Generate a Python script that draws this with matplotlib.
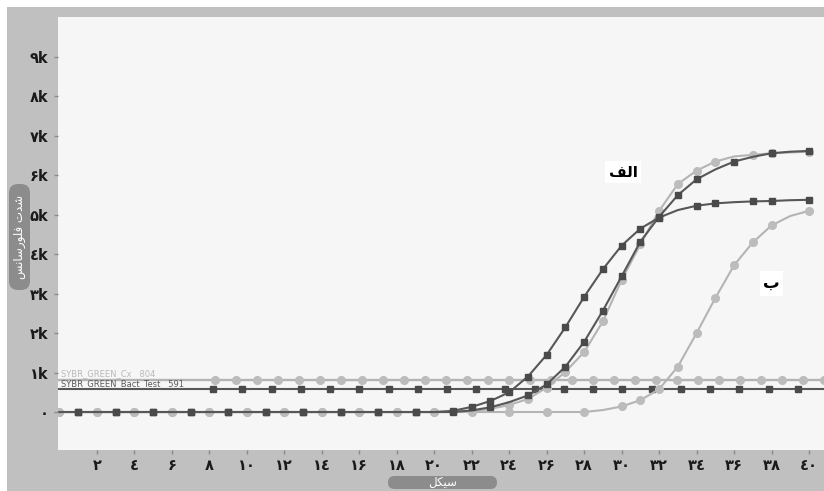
import numpy as np
import matplotlib
matplotlib.use("Agg")
import matplotlib.pyplot as plt
from matplotlib.patches import Rectangle, FancyBboxPatch
from matplotlib.transforms import IdentityTransform

plt.rcParams['font.family'] = ['DejaVu Sans']

# ---------------------------------------------------------------- data
CYCLES = list(range(0, 41))
# dark squares, early sample (plateau ~5.4k)
CURVE_A = [0, 0, 0, 0, 0, 0, 0, 0, 0, 0,
           0, 0, 0, 0, 0, 0, 0, 0, 0, 0,
           0, 30, 130, 280, 500, 900, 1450, 2150, 2920, 3620,
           4220, 4650, 4930, 5120, 5230, 5290, 5320, 5340, 5350, 5370, 5380]
# dark squares, second sample (plateau ~6.6k)
CURVE_B = [0, 0, 0, 0, 0, 0, 0, 0, 0, 0,
           0, 0, 0, 0, 0, 0, 0, 0, 0, 0,
           0, 0, 40, 120, 250, 420, 700, 1150, 1780, 2570,
           3440, 4320, 4950, 5500, 5900, 6150, 6350, 6470, 6560, 6600, 6620]
# light circles, close to B (plateau ~6.6k)
CURVE_C = [0, 0, 0, 0, 0, 0, 0, 0, 0, 0,
           0, 0, 0, 0, 0, 0, 0, 0, 0, 0,
           0, 0, 20, 80, 180, 330, 620, 1020, 1520, 2300,
           3350, 4250, 5100, 5780, 6120, 6350, 6480, 6520, 6560, 6580, 6600]
# light circles, late sample "ب" (plateau ~5.1k)
CURVE_D = [0, 0, 0, 0, 0, 0, 0, 0, 0, 0,
           0, 0, 0, 0, 0, 0, 0, 0, 0, 0,
           0, 0, 0, 0, 0, 0, 0, 0, 0, 50,
           140, 300, 580, 1150, 2000, 2890, 3720, 4300, 4730, 4970, 5100]

THRESH_CX = 804
THRESH_BACT = 591
THRESH_CX_LABEL = "SYBR_GREEN_Cx   804"
THRESH_BACT_LABEL = "SYBR_GREEN_Bact_Test   591"

YTICKS = [0, 1000, 2000, 3000, 4000, 5000, 6000, 7000, 8000, 9000]
YTICK_LABELS = ["۰", "۱k", "۲k", "۳k", "٤k", "۵k", "۶k", "۷k", "۸k", "۹k"]
XTICKS = [2, 4, 6, 8, 10, 12, 14, 16, 18, 20, 22, 24, 26, 28, 30, 32, 34, 36, 38, 40]
XTICK_LABELS = ["۲", "٤", "۶", "۸", "۱۰", "۱۲", "۱٤", "۱۶", "۱۸", "۲۰",
                "۲۲", "۲٤", "۲۶", "۲۸", "۳۰", "۳۲", "۳٤", "۳۶", "۳۸", "٤۰"]

# Persian labels, pre-shaped (presentation forms, visual order) since mpl does no shaping
LBL_ALEF = "\uFED2\uFEDF\uFE8D"                       # الف
LBL_BE = "\uFE8F"                                      # ب
XLABEL = "\uFEDE\uFB91\uFBFF\uFEB3"                    # سیکل
YLABEL = "\uFEB2\uFEE7\uFE8E\uFEB3\uFEAD\uFEEE\uFEE0\uFED3 \uFE95\uFEAA\uFEB7"  # شدت فلورسانس

# marker indices (style only)
MK_A = list(range(1, 21, 2)) + list(range(21, 33)) + [34, 35, 37, 38, 40]
MK_B = list(range(1, 24, 2)) + list(range(25, 35)) + [36, 38, 40]
MK_C = list(range(0, 25, 2)) + list(range(25, 36)) + [37, 38, 40]
MK_D = list(range(0, 29, 2)) + list(range(30, 39)) + [40]

DARK, DARK_M, LIGHT, LIGHT_M = "#575757", "#4a4a4a", "#b4b4b4", "#bcbcbc"

W, H = 824, 491
fig = plt.figure(figsize=(W / 100, H / 100), dpi=100, facecolor="white")
fig.add_artist(Rectangle((7 / W, 0), 1, 1 - 7 / H, transform=fig.transFigure,
                         facecolor="#c0c0c0", edgecolor="none", zorder=-5))
ax = fig.add_axes([58 / W, 41 / H, 766 / W, 433 / H])
ax.set_facecolor("#f6f6f6")

# threshold lines with their labels
ax.axhline(THRESH_CX, color=LIGHT, lw=1.7, zorder=2)
ax.axhline(THRESH_BACT, color=DARK, lw=1.5, zorder=2)
cx_x = np.arange(8.3, 40.9, 1.12)
ax.plot(cx_x, [THRESH_CX] * len(cx_x), "o", ms=5.5, color=LIGHT_M, zorder=3)
bt_x = np.arange(8.2, 40.9, 1.56)
ax.plot(bt_x, [THRESH_BACT] * len(bt_x), "s", ms=5, color=DARK_M, zorder=3)
ax.text(0.1, THRESH_CX + 50, THRESH_CX_LABEL, fontsize=6, color="#bababa", va="bottom", ha="left",
        fontstretch="expanded")
ax.text(0.1, THRESH_BACT + 20, THRESH_BACT_LABEL, fontsize=6, color="#5a5a5a", va="bottom", ha="left",
        fontstretch="expanded")

# amplification curves
for vals, mk in [(CURVE_D, MK_D), (CURVE_C, MK_C)]:
    ax.plot(CYCLES, vals, color=LIGHT, lw=1.5, marker="o", ms=5.5, mfc=LIGHT_M, mec=LIGHT_M,
            markevery=mk, zorder=4)
for vals, mk in [(CURVE_B, MK_B), (CURVE_A, MK_A)]:
    ax.plot(CYCLES, vals, color=DARK, lw=1.5, marker="s", ms=5, mfc=DARK_M, mec=DARK_M,
            markevery=mk, zorder=5)

ax.text(30.07, 6085, LBL_ALEF, ha="center", va="center", fontsize=11, fontweight="bold",
        bbox=dict(facecolor="white", edgecolor="none", pad=2.5), zorder=6)
ax.text(38.0, 3270, LBL_BE, ha="center", va="center", fontsize=12, fontweight="bold",
        bbox=dict(facecolor="white", edgecolor="none", pad=2.5), zorder=6)

ax.set_xlim(-0.08, 40.8)
ax.set_ylim(-963, 10015)
ax.set_xticks(XTICKS, XTICK_LABELS)
ax.set_yticks(YTICKS, YTICK_LABELS)
ax.tick_params(axis="both", length=3, width=1, color="#8a8a8a", labelsize=10.5, labelcolor="#1a1a1a")
ax.tick_params(axis="x", pad=3)
ax.tick_params(axis="y", pad=4)
for lbl in ax.get_xticklabels() + ax.get_yticklabels():
    lbl.set_fontweight("bold")
for s in ax.spines.values():
    s.set_visible(False)

# axis-title pills (pixel coords, origin bottom-left)
fig.add_artist(FancyBboxPatch((9, H - 290), 21, 106, boxstyle="round,pad=0,rounding_size=9",
                              transform=IdentityTransform(), facecolor="#8c8c8c", edgecolor="none"))
fig.add_artist(FancyBboxPatch((388, H - 489), 109, 13, boxstyle="round,pad=0,rounding_size=6.5",
                              transform=IdentityTransform(), facecolor="#8c8c8c", edgecolor="none"))
fig.text(19.5 / W, 1 - 237 / H, YLABEL, rotation=90, color="white", fontsize=8.5, ha="center", va="center")
fig.text(442.5 / W, 1 - 482.5 / H, XLABEL, color="white", fontsize=8.5, ha="center", va="center")

fig.savefig("out.png", dpi=100, facecolor=fig.get_facecolor())
